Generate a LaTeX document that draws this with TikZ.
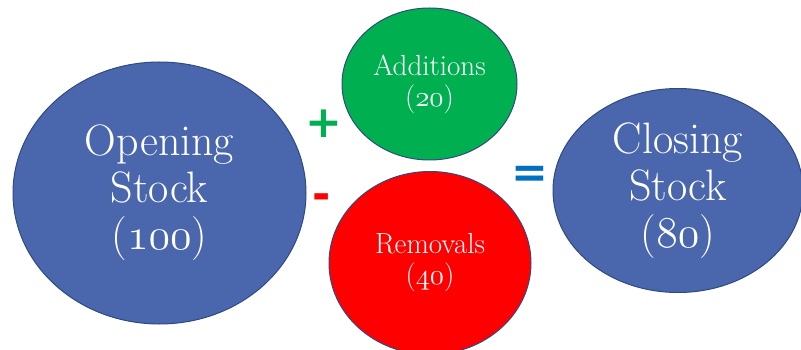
\RequirePackage{fix-cm}
\documentclass[tikz,border=0pt]{standalone}
\usepackage{fontspec}
\newfontfamily\symfont{DejaVu Sans}
\usetikzlibrary{shapes.geometric}
% old-style figures from the math italic font, freely scalable via fix-cm
\newcommand\osfig[1]{{\fontencoding{OML}\fontfamily{cmm}\fontseries{m}\fontshape{it}\selectfont #1}}
\definecolor{stockblue}{HTML}{4A66AC}
\definecolor{stockedge}{HTML}{2F4A80}
\definecolor{addgreen}{HTML}{00B050}
\definecolor{remred}{HTML}{FF0000}
\definecolor{eqblue}{HTML}{0070C0}
\tikzset{
  bubble/.style={ellipse, draw=stockedge, line width=1pt, inner sep=0pt,
    text=white, align=center},
  bigtext/.style={font=\fontsize{44}{47}\selectfont},
  smalltext/.style={font=\fontsize{29}{31}\selectfont},
  opsign/.style={font=\symfont\bfseries\fontsize{44}{44}\selectfont, inner sep=0pt}
}
\begin{document}
\begin{tikzpicture}[x=1pt, y=-1pt]
  \useasboundingbox (0,0) rectangle (801,350);
  \clip (0,0) rectangle (801,350);
  % stock levels and flows
  \node[bubble, bigtext, fill=stockblue, minimum width=293pt, minimum height=262pt]
    (open) at (159.5,193) {Opening\\Stock\\(\osfig{100})};
  \node[bubble, smalltext, fill=addgreen, minimum width=175pt, minimum height=152pt]
    (add) at (429.5,84) {Additions\\(\osfig{20})};
  \node[bubble, smalltext, fill=remred, minimum width=202pt, minimum height=183pt]
    (rem) at (430,263) {Removals\\(\osfig{40})};
  \node[bubble, bigtext, fill=stockblue, minimum width=250pt, minimum height=204pt]
    (close) at (678,190.5) {Closing\\Stock\\(\osfig{80})};
  % operators between the bubbles
  \node[opsign, text=addgreen] (plus) at (324,124) {+};
  \node[opsign, text=remred] (minus) at (322,202) {-};
  \node[opsign, text=eqblue] (equals) at (530,177) {=};
\end{tikzpicture}
\end{document}
